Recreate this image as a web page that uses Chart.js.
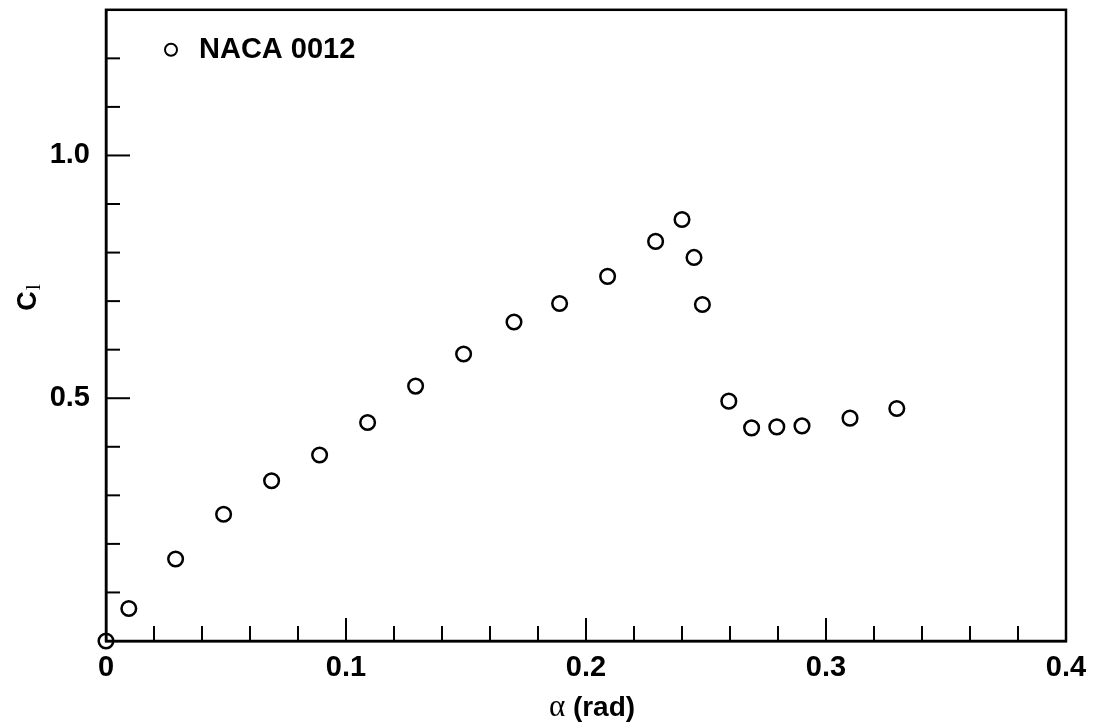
<!DOCTYPE html>
<html>
<head>
<meta charset="utf-8">
<script src="https://cdn.jsdelivr.net/npm/chart.js@4.4.1/dist/chart.umd.min.js"></script>
<style>
  body { margin: 0; background: #fff; }
  canvas { display: block; }
</style>
</head>
<body>
<canvas id="chart" width="1098" height="727"></canvas>
<script>
// --- DATA ---
const alpha = [0, 0.0095, 0.029, 0.049, 0.069, 0.089, 0.109, 0.129, 0.149, 0.17, 0.189,
               0.209, 0.229, 0.24, 0.245, 0.2485, 0.2595, 0.269, 0.2795, 0.29, 0.31, 0.3295];
const cl = [0, 0.067, 0.169, 0.261, 0.330, 0.383, 0.450, 0.525, 0.591, 0.657, 0.695,
            0.751, 0.823, 0.868, 0.790, 0.693, 0.494, 0.439, 0.441, 0.443, 0.459, 0.479];
const seriesName = 'NACA 0012';
const xLabels = [0, 0.1, 0.2, 0.3, 0.4];
const yLabels = [0.5, 1.0];

const points = alpha.map((a, i) => ({ x: a, y: cl[i] }));
const FONT = "'Liberation Sans', Arial, sans-serif";

function isAt(v, list) {
  return list.some(l => Math.abs(v - l) < 1e-6);
}

// inward ticks + top/right frame
const framePlugin = {
  id: 'frame',
  afterDraw(chart) {
    const { ctx, chartArea: a, scales } = chart;
    ctx.save();
    ctx.strokeStyle = '#000';
    ctx.lineWidth = 2.5;
    ctx.strokeRect(a.left, a.top, a.right - a.left, a.bottom - a.top);
    ctx.lineWidth = 2;
    scales.x.ticks.forEach(t => {
      if (t.value <= 0.0001 || t.value >= 0.3999) return;
      const px = scales.x.getPixelForValue(t.value);
      const len = isAt(t.value, xLabels) ? 23 : 15;
      ctx.beginPath();
      ctx.moveTo(px, a.bottom);
      ctx.lineTo(px, a.bottom - len);
      ctx.stroke();
    });
    scales.y.ticks.forEach(t => {
      if (t.value <= 0.0001 || t.value >= 1.2999) return;
      const py = scales.y.getPixelForValue(t.value);
      const len = isAt(t.value, yLabels) ? 24 : 14;
      ctx.beginPath();
      ctx.moveTo(a.left, py);
      ctx.lineTo(a.left + len, py);
      ctx.stroke();
    });
    ctx.restore();
  }
};

// legend box and axis titles
const textPlugin = {
  id: 'texts',
  afterDraw(chart) {
    const { ctx, chartArea: a } = chart;
    ctx.save();
    ctx.fillStyle = '#000';
    ctx.strokeStyle = '#000';
    // legend
    ctx.lineWidth = 2;
    ctx.beginPath();
    ctx.arc(a.left + 65, a.top + 40, 6, 0, Math.PI * 2);
    ctx.stroke();
    ctx.font = 'bold 29px ' + FONT;
    ctx.textBaseline = 'middle';
    ctx.textAlign = 'left';
    ctx.fillText(seriesName, a.left + 93, a.top + 40);

    // x title: alpha (rad)
    ctx.textBaseline = 'alphabetic';
    const cx = (a.left + a.right) / 2 + 6;
    ctx.font = "31px 'Liberation Serif', serif";
    const wA = ctx.measureText('\u03b1 ').width;
    ctx.font = 'bold 28px ' + FONT;
    const wR = ctx.measureText('(rad)').width;
    let x0 = cx - (wA + wR) / 2;
    ctx.font = "31px 'Liberation Serif', serif";
    ctx.fillText('\u03b1', x0, 716);
    ctx.font = 'bold 28px ' + FONT;
    ctx.fillText('(rad)', x0 + wA, 716);

    // y title: C with subscript l
    ctx.translate(36, 298);
    ctx.rotate(-Math.PI / 2);
    ctx.font = 'bold 27px ' + FONT;
    const wC = ctx.measureText('C').width;
    ctx.font = "22px 'Liberation Serif', serif";
    const wl = ctx.measureText('l').width;
    ctx.textAlign = 'left';
    ctx.font = 'bold 27px ' + FONT;
    ctx.fillText('C', -(wC + wl) / 2, 0);
    ctx.font = "22px 'Liberation Serif', serif";
    ctx.fillText('l', -(wC + wl) / 2 + wC + 1, 4);
    ctx.restore();
  }
};

new Chart(document.getElementById('chart'), {
  type: 'scatter',
  data: {
    datasets: [{
      label: seriesName,
      data: points,
      clip: false,
      pointStyle: 'circle',
      pointRadius: 7.3,
      pointHoverRadius: 7.3,
      borderWidth: 2.5,
      borderColor: '#000',
      backgroundColor: 'rgba(255,255,255,0)'
    }]
  },
  options: {
    responsive: false,
    animation: false,
    devicePixelRatio: 1,
    layout: { padding: { top: 8, right: 32, left: 0, bottom: 0 } },
    plugins: {
      legend: { display: false },
      tooltip: { enabled: false }
    },
    scales: {
      x: {
        type: 'linear',
        min: 0,
        max: 0.4,
        afterFit: s => { s.height = 86; s.paddingLeft = 0; s.paddingRight = 0; },
        border: { display: true, color: '#000', width: 2.5 },
        grid: { display: true, drawOnChartArea: false, drawTicks: false },
        ticks: {
          stepSize: 0.02,
          autoSkip: false,
          maxRotation: 0,
          padding: 10,
          color: '#000',
          font: { family: FONT, size: 29, weight: 'bold' },
          callback: v => {
            if (!isAt(v, xLabels)) return '';
            return Math.abs(v) < 1e-6 ? '0' : v.toFixed(1);
          }
        }
      },
      y: {
        type: 'linear',
        min: 0,
        max: 1.3,
        afterFit: s => { s.width = 106; s.paddingTop = 0; s.paddingBottom = 0; },
        border: { display: true, color: '#000', width: 2.5 },
        grid: { display: true, drawOnChartArea: false, drawTicks: false },
        ticks: {
          stepSize: 0.1,
          autoSkip: false,
          padding: 16,
          color: '#000',
          font: { family: FONT, size: 29, weight: 'bold' },
          callback: v => isAt(v, yLabels) ? v.toFixed(1) : ''
        }
      }
    }
  },
  plugins: [framePlugin, textPlugin]
});
</script>
</body>
</html>
